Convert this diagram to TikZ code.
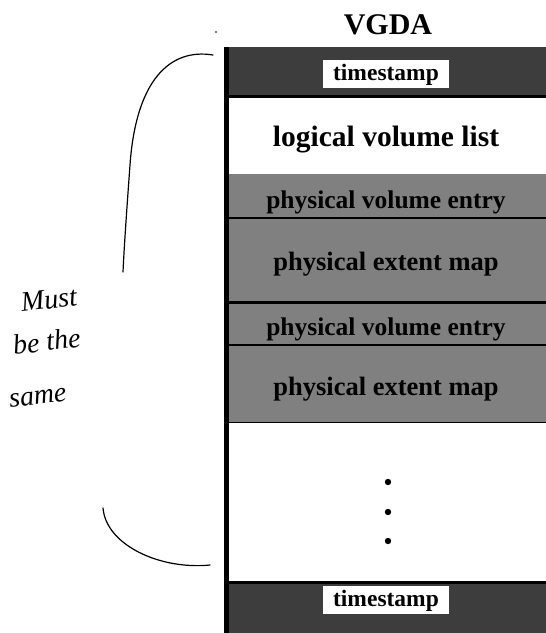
\documentclass[tikz,border=0pt]{standalone}
\usepackage{fontspec}
\setmainfont{Liberation Serif}
\begin{document}
\begin{tikzpicture}[x=1pt,y=-1pt,
  lab/.style={font=\fontsize{#1}{#1}\selectfont\bfseries, inner sep=0pt, anchor=base},
  band/.style={rectangle, minimum width=320pt, inner sep=0pt, outer sep=0pt, anchor=north west},
  darkband/.style={band, fill=black!76},
  greyband/.style={band, fill=black!50},
  whiteband/.style={band, fill=white},
  stamp/.style={lab=23.5, fill=white, text height=17pt, text depth=5pt, inner xsep=10pt, inner ysep=3pt},
  septhick/.style={line width=3pt},
  septhin/.style={line width=1.5pt},
  hand/.style={line width=1.2pt, line cap=round},
  handtext/.style={font=\fontsize{28}{28}\selectfont\itshape, rotate=7, inner sep=0pt, anchor=base west}
]
\useasboundingbox (0,0) rectangle (546,633);
% bands
\node[darkband, minimum height=49pt] (top) at (226,47) {};
\node[whiteband, minimum height=78pt] (lvl) at (226,96) {};
\node[greyband, minimum height=44pt] (pve1) at (226,174) {};
\node[greyband, minimum height=84pt] (pem1) at (226,218) {};
\node[greyband, minimum height=43pt] (pve2) at (226,302) {};
\node[greyband, minimum height=77pt] (pem2) at (226,345) {};
\node[whiteband, minimum height=160pt] (gap) at (226,422) {};
\node[darkband, minimum height=51pt] (bot) at (226,582) {};
% separators
\draw[septhick] (top.south west) -- (top.south east);
\draw[septhin] (pve1.south west) -- (pve1.south east);
\draw[septhick] (pem1.south west) -- (pem1.south east);
\draw[septhin] (pve2.south west) -- (pve2.south east);
\draw[line width=1pt] (pem2.south west) -- (pem2.south east);
\draw[septhick] (gap.south west) -- (gap.south east);
\draw[line width=5pt] (top.north west) -- (bot.south west);
% labels
\node[lab=30] (title) at (388,34) {VGDA};
\node[stamp] (ts1) at (386,80) {timestamp};
\node[lab=29.5] (lvlt) at (386,146) {logical volume list};
\node[lab=25.5] (pve1t) at (386,208) {physical volume entry};
\node[lab=26.5] (pem1t) at (386,270) {physical extent map};
\node[lab=25.5] (pve2t) at (386,335) {physical volume entry};
\node[lab=26.5] (pem2t) at (386,395) {physical extent map};
\node[stamp] (ts2) at (386,606) {timestamp};
% dots
\fill (388,482) circle (3.2pt);
\fill (388,512) circle (3.2pt);
\fill (388,541) circle (3.2pt);
\fill (216,32) circle (0.8pt);
% handwritten bracket
\coordinate (b1) at (213,55);
\coordinate (b2) at (123,272);
\coordinate (b3) at (103,508);
\coordinate (b4) at (210,565);
\draw[hand] (b1) .. controls (170,48) and (136,80) .. (130,165) .. controls (126,220) and (124,250) .. (b2);
\draw[hand] (b3) .. controls (106,545) and (160,570) .. (b4);
% handwritten note
\node[handtext] (w1) at (22,312) {Must};
\node[handtext] (w2) at (14,355) {be the};
\node[handtext] (w3) at (10,408) {same};
\end{tikzpicture}
\end{document}
